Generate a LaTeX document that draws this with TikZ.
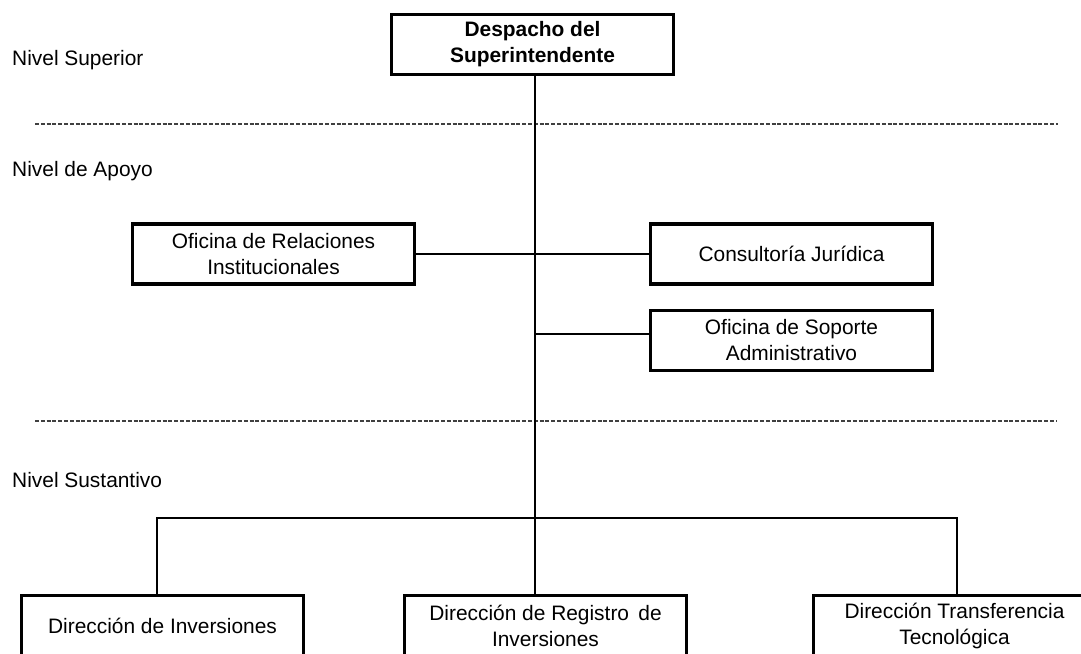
\documentclass[tikz,border=0pt]{standalone}
\usepackage{fontspec}
\setmainfont{Liberation Sans}
\begin{document}
\begin{tikzpicture}[x=1pt,y=-1pt,
  box/.style={draw=black,line width=3.2pt,fill=white,rectangle,
    minimum width=282pt,minimum height=60pt,inner sep=0pt,align=center,
    font=\fontsize{20.9}{26}\selectfont},
  lvl/.style={anchor=west,inner sep=0pt,font=\fontsize{20.9}{26}\selectfont},
  conn/.style={draw=black,line width=1.9pt},
  sep/.style={draw=black!75,line width=1.1pt,dash pattern=on 4pt off 1.8pt}]
\useasboundingbox (0,0) rectangle (1081,653);
\clip (0,0) rectangle (1081,653);
\fill[white] (0,0) rectangle (1081,653);
% level labels
\node[lvl] (lsup) at (12,60) {Nivel Superior};
\node[lvl] (lapo) at (12,171) {Nivel de Apoyo};
\node[lvl] (lsus) at (12,480) {Nivel Sustantivo};
% separators
\coordinate (s1a) at (35,124); \coordinate (s1b) at (1058,124);
\coordinate (s2a) at (35,421); \coordinate (s2b) at (1057,421);
\draw[sep] (s1a) -- (s1b);
\draw[sep] (s2a) -- (s2b);
% boxes
\node[box,font=\fontsize{20.9}{26}\selectfont\bfseries] (top) at (532.5,44.5) {Despacho del\\Superintendente};
\node[box] (ofr) at (273.5,254) {Oficina de Relaciones\\Institucionales};
\node[box] (cj) at (791.5,254) {Consultoría Jurídica};
\node[box] (osa) at (791.5,340.5) {Oficina de Soporte\\Administrativo};
\node[box] (dinv) at (162.5,625.5) {Dirección de Inversiones};
\node[box] (reg) at (545.5,625.5) {Dirección de Registro\, de\\Inversiones};
\node[box] (dtt) at (954.5,625.5) {Dirección Transferencia\\Tecnológica};
% connectors
\coordinate (j2) at (535,334);
\coordinate (bl) at (157,518);
\coordinate (br) at (957,518);
\draw[conn] (ofr.east) -- (cj.west);
\draw[conn] (j2) -- (j2 -| osa.west);
\draw[conn] (bl |- dinv.north) -- (bl) -- (br) -- (br |- dtt.north);
\draw[conn] ([xshift=2.5pt]top.south) -- ([xshift=2.5pt]top.south |- reg.north);
\end{tikzpicture}
\end{document}
